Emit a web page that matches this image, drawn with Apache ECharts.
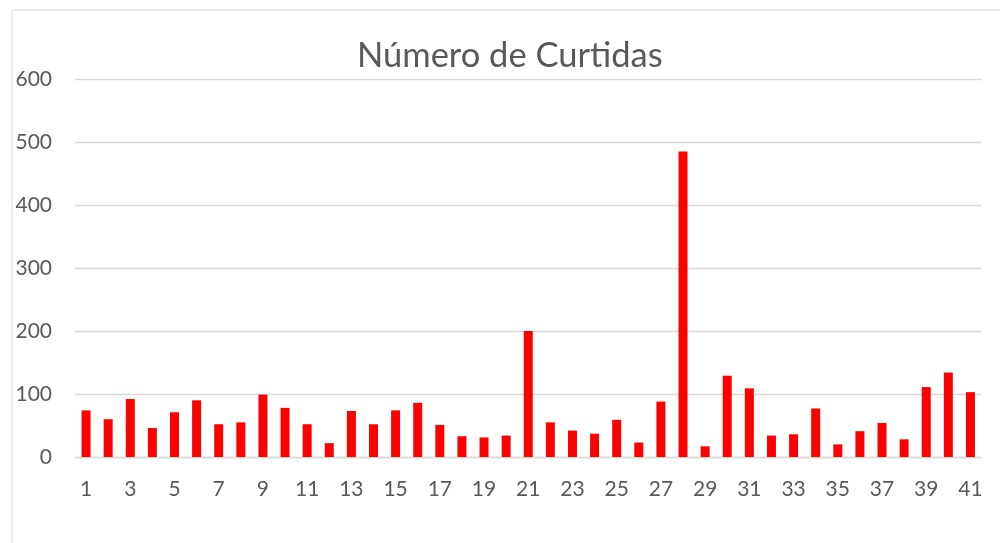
<!DOCTYPE html>
<html>
<head>
<meta charset="utf-8">
<script src="https://cdn.jsdelivr.net/npm/echarts@6/dist/echarts.min.js"></script>
<style>html,body{margin:0;padding:0;background:#fff}#c{width:1000px;height:543px}</style>
</head>
<body>
<div id="c"></div>
<script>
const titleText = 'Número de Curtidas';
const categories = ['1','2','3','4','5','6','7','8','9','10','11','12','13','14','15','16','17','18','19','20','21','22','23','24','25','26','27','28','29','30','31','32','33','34','35','36','37','38','39','40','41'];
const curtidas = [74,60,92,46,71,90,52,55,99,78,52,22,73,52,74,86,51,33,31,34,200,55,42,37,59,23,88,485,17,129,109,34,36,77,20,41,54,28,111,134,103];
const yTicks = {min: 0, max: 600, interval: 100};

const chart = echarts.init(document.getElementById('c'));
chart.setOption({
  animation: false,
  backgroundColor: '#fff',
  title: {
    text: titleText,
    left: 352,
    top: 33,
    textStyle: {fontFamily: 'Lato', fontSize: 34.5, fontWeight: 'normal', color: '#595959'}
  },
  graphic: [{
    type: 'rect', shape: {x: 12, y: 10, width: 1000, height: 560},
    style: {fill: 'none', stroke: '#d9d9d9', lineWidth: 1}, silent: true
  }],
  grid: {left: 75, right: 18.5, top: 79, bottom: 86},
  xAxis: {
    type: 'category',
    data: categories,
    axisTick: {show: false},
    axisLine: {show: true, lineStyle: {color: '#d9d9d9', width: 1.3}},
    axisLabel: {interval: 1, margin: 22, fontFamily: 'Lato', fontSize: 21, color: '#595959'}
  },
  yAxis: {
    type: 'value',
    min: yTicks.min, max: yTicks.max, interval: yTicks.interval,
    axisLine: {show: false},
    axisTick: {show: false},
    splitLine: {lineStyle: {color: '#d9d9d9', width: 1.3}},
    axisLabel: {margin: 23, fontFamily: 'Lato', fontSize: 21, color: '#595959'}
  },
  series: [{
    type: 'bar',
    data: curtidas,
    barWidth: 9,
    itemStyle: {color: '#ff0000'}
  }]
});
</script>
</body>
</html>
